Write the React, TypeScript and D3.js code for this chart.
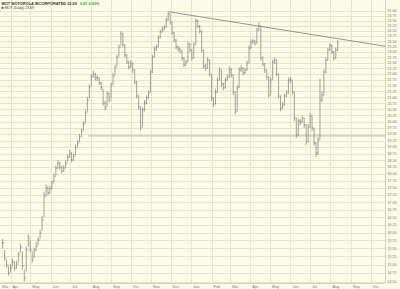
import React from "react";
import * as d3 from "d3";

// ---- data ----
const seriesStart = new Date(2005, 2, 20);
const stepDays = 3;

const closes = [
  15.67, 15.2, 14.99, 14.75, 14.9, 15.08, 14.9, 15.02, 15.3, 15.54,
  14.96, 14.6, 15.45, 15.82, 15.45, 15.14, 15.45, 15.57, 15.76, 15.98,
  16.41, 17.22, 17.5, 17.33, 17.47, 17.68, 17.92, 18.21, 18.4, 18.25,
  18.1, 18.21, 18.4, 18.62, 18.77, 18.51, 18.66, 19.0, 19.16, 19.39,
  19.62, 19.9, 20.35, 20.88, 21.44, 21.87, 22.0, 21.83, 21.83, 21.61,
  21.4, 20.76, 20.55, 21.14, 20.88, 21.53, 21.92, 22.31, 22.77, 23.23,
  23.85, 23.33, 22.86, 22.54, 22.31, 22.49, 22.18, 21.65, 21.05, 20.59,
  19.78, 20.47, 20.76, 20.97, 21.18, 22.09, 22.77, 23.14, 23.23, 23.66,
  23.95, 24.09, 24.18, 24.53, 24.83, 24.41, 23.9, 23.56, 23.23, 23.14,
  23.05, 22.72, 22.4, 22.54, 23.37, 23.09, 22.72, 23.33, 24.48, 24.23,
  23.99, 23.09, 22.36, 22.27, 22.63, 22.0, 20.97, 20.72, 21.22, 21.74,
  22.18, 21.57, 21.4, 21.74, 21.87, 22.22, 21.96, 21.22, 20.39, 21.4,
  22.18, 22.27, 22.05, 22.18, 22.49, 23.18, 23.47, 23.51, 23.42, 24.04,
  24.23, 22.72, 22.45, 22.18, 21.87, 21.09, 21.74, 22.54, 22.63, 22.0,
  21.05, 20.55, 20.67, 21.05, 21.18, 21.74, 21.74, 21.22, 20.14, 19.47,
  20.02, 19.98, 20.14, 19.86, 19.19, 19.78, 20.22, 19.74, 19.16, 18.77,
  19.27, 20.88, 21.09, 22.09, 22.63, 23.09, 23.28, 23.0, 22.72, 23.09,
  23.42,
];

const highs = [
  15.8, 15.45, 15.15, 14.95, 15.02, 15.18, 15.1, 15.12, 15.38, 15.65,
  15.4, 14.85, 15.55, 15.95, 15.75, 15.4, 15.52, 15.7, 15.85, 16.1,
  16.55, 17.35, 17.62, 17.55, 17.58, 17.75, 18.02, 18.3, 18.5, 18.45,
  18.3, 18.32, 18.5, 18.72, 18.9, 18.8, 18.75, 19.1, 19.28, 19.5,
  19.72, 20.02, 20.48, 21.0, 21.55, 22.0, 22.15, 22.05, 21.95, 21.85,
  21.65, 21.35, 20.85, 21.25, 21.2, 21.62, 22.05, 22.42, 22.88, 23.35,
  23.98, 23.9, 23.35, 22.9, 22.6, 22.62, 22.52, 22.2, 21.7, 21.1,
  20.62, 20.58, 20.88, 21.08, 21.3, 22.2, 22.88, 23.25, 23.35, 23.78,
  24.05, 24.2, 24.28, 24.65, 24.95, 24.85, 24.45, 23.95, 23.6, 23.3,
  23.22, 23.08, 22.75, 22.65, 23.48, 23.42, 23.12, 23.45, 24.6, 24.55,
  24.28, 24.0, 23.1, 22.45, 22.75, 22.65, 22.0, 21.0, 21.35, 21.85,
  22.3, 22.2, 21.62, 21.85, 21.98, 22.35, 22.25, 21.98, 21.25, 21.52,
  22.3, 22.4, 22.3, 22.28, 22.6, 23.3, 23.58, 23.62, 23.55, 24.15,
  24.4, 24.25, 22.8, 22.5, 22.2, 21.9, 21.85, 22.65, 22.75, 22.65,
  22.02, 21.08, 20.8, 21.15, 21.3, 21.85, 21.88, 21.75, 21.25, 20.15,
  20.12, 20.1, 20.25, 20.15, 19.88, 19.9, 20.35, 20.25, 19.75, 19.18,
  19.38, 21.8, 21.25, 22.2, 22.75, 23.2, 23.4, 23.35, 23.05, 23.2,
  23.55,
];

const lows = [
  15.5, 15.12, 14.9, 14.68, 14.78, 14.95, 14.82, 14.88, 15.05, 15.35,
  14.85, 14.5, 14.8, 15.55, 15.38, 15.05, 15.2, 15.42, 15.6, 15.8,
  16.05, 16.5, 17.2, 17.25, 17.3, 17.45, 17.7, 17.95, 18.2, 18.15,
  18.02, 18.08, 18.22, 18.45, 18.6, 18.42, 18.48, 18.7, 19.02, 19.2,
  19.4, 19.65, 19.95, 20.4, 20.95, 21.5, 21.85, 21.72, 21.7, 21.52,
  21.3, 20.65, 20.45, 20.6, 20.8, 20.95, 21.55, 21.95, 22.35, 22.8,
  23.3, 23.22, 22.75, 22.45, 22.2, 22.3, 22.05, 21.55, 20.95, 20.48,
  19.65, 19.8, 20.42, 20.7, 20.95, 21.2, 22.05, 22.75, 23.05, 23.22,
  23.65, 23.92, 24.02, 24.15, 24.5, 24.3, 23.8, 23.45, 23.12, 23.02,
  22.92, 22.6, 22.3, 22.38, 22.55, 22.98, 22.62, 22.7, 23.35, 24.12,
  23.88, 22.98, 22.25, 22.15, 22.25, 21.9, 20.85, 20.6, 20.7, 21.2,
  21.72, 21.45, 21.3, 21.38, 21.7, 21.85, 21.85, 21.1, 20.28, 20.4,
  21.4, 22.1, 21.95, 22.0, 22.15, 22.5, 23.15, 23.38, 23.3, 23.4,
  24.0, 22.6, 22.35, 22.05, 21.75, 20.98, 21.1, 21.75, 22.45, 21.9,
  20.95, 20.42, 20.5, 20.65, 21.0, 21.15, 21.6, 21.1, 20.02, 19.35,
  19.45, 19.85, 19.95, 19.75, 19.08, 19.18, 19.75, 19.62, 19.05, 18.62,
  18.7, 19.3, 20.8, 21.1, 22.05, 22.6, 23.05, 22.9, 22.6, 22.7,
  23.05,
];

const priceTicks = [
  14.5, 14.75, 15.0, 15.25, 15.5, 15.75, 16.0, 16.25, 16.5, 16.75,
  17.0, 17.25, 17.5, 17.75, 18.0, 18.25, 18.5, 18.75, 19.0, 19.25,
  19.5, 19.75, 20.0, 20.25, 20.5, 20.75, 21.0, 21.25, 21.5, 21.75,
  22.0, 22.25, 22.5, 22.75, 23.0, 23.25, 23.5, 23.75, 24.0, 24.25,
  24.5, 24.75, 25.0,
];

const monthTicks = [
  "2005-03-01", "2005-04-01", "2005-05-01", "2005-06-01", "2005-07-01",
  "2005-08-01", "2005-09-01", "2005-10-01", "2005-11-01", "2005-12-01",
  "2006-01-01", "2006-02-01", "2006-03-01", "2006-04-01", "2006-05-01",
  "2006-06-01", "2006-07-01", "2006-08-01", "2006-09-01", "2006-10-01",
];
const monthLabels = [
  "Mar", "Apr", "May", "Jun", "Jul", "Aug", "Sep", "Oct", "Nov", "Dec",
  "Jan", "Feb", "Mar", "Apr", "May", "Jun", "Jul", "Aug", "Sep", "Oct",
];

const trendDates = ["2005-11-29", "2006-10-23"];
const trendPrices = [24.93, 23.27];
const supportStart = "2005-07-28";
const supportPrice = 19.43;

const titleMain = "MOT MOTOROLA INCORPORATED  23.69";
const titleChange = "0.47  2.03%";
const subTitle = "■ MOT (Daily) 23.69";

// ---- layout ----
const W = 400;
const H = 289;
const plotLeft = 0;
const plotRight = 385;
const plotTop = 0;
const plotBottom = 283;

const parse = (s: string) => {
  const [y, m, d] = s.split("-").map(Number);
  return new Date(y, m - 1, d);
};

export default function App() {
  const x = d3
    .scaleTime()
    .domain([new Date(2005, 2, 16), new Date(2006, 9, 23)])
    .range([plotLeft, plotRight]);
  const y = d3.scaleLog().domain([14.5, 25]).range([281.5, 10.5]);

  const dates = closes.map((_, i) => d3.timeDay.offset(seriesStart, stepDays * i));

  const bg = "#fbfbe7";
  const grid = "#e4e4c6";
  const barColor = "#7c7c7c";
  const labelColor = "#7a7a7a";

  return (
    <div>
      <style>{`body{margin:0}`}</style>
      <svg width={W} height={H} style={{ display: "block" }} fontFamily="Liberation Sans, Arial, sans-serif">
        <rect x={0} y={0} width={W} height={H} fill={bg} />
        {/* horizontal grid */}
        {priceTicks.map((p) => (
          <line key={"h" + p} x1={plotLeft} x2={plotRight} y1={Math.round(y(p)) + 0.5} y2={Math.round(y(p)) + 0.5} stroke={grid} strokeWidth={1} />
        ))}
        {/* vertical grid */}
        {monthTicks.map((m) => {
          const xx = x(parse(m));
          if (xx < plotLeft) return null;
          return <line key={"v" + m} x1={Math.round(xx) + 0.5} x2={Math.round(xx) + 0.5} y1={plotTop} y2={plotBottom} stroke={grid} strokeWidth={1} />;
        })}
        {/* plot border right + bottom */}
        <line x1={plotRight + 0.5} x2={plotRight + 0.5} y1={plotTop} y2={plotBottom} stroke="#d4d4b8" />
        <line x1={plotLeft} x2={plotRight} y1={plotBottom + 0.5} y2={plotBottom + 0.5} stroke="#d4d4b8" />

        {/* support line */}
        <line
          x1={x(parse(supportStart))}
          x2={plotRight}
          y1={y(supportPrice)}
          y2={y(supportPrice)}
          stroke="#a8a8a0"
          strokeWidth={0.8}
        />
        {/* trend line */}
        <line
          x1={x(parse(trendDates[0]))}
          y1={y(trendPrices[0])}
          x2={x(parse(trendDates[1]))}
          y2={y(trendPrices[1])}
          stroke="#8a8a8a"
          strokeWidth={0.9}
        />

        {/* price bars */}
        <g stroke={barColor} strokeWidth={0.7}>
          {closes.map((c, i) => {
            const xx = x(dates[i]);
            const prev = i > 0 ? closes[i - 1] : c;
            return (
              <g key={"b" + i}>
                <line x1={xx} x2={xx} y1={y(highs[i])} y2={y(lows[i])} />
                <line x1={xx - 0.9} x2={xx} y1={y(prev)} y2={y(prev)} />
                <line x1={xx} x2={xx + 0.9} y1={y(c)} y2={y(c)} />
              </g>
            );
          })}
        </g>

        {/* right axis labels */}
        {priceTicks.map((p) => (
          <text key={"t" + p} x={392} y={y(p)} dy="0.35em" fontSize={3.8} fill={labelColor} textAnchor="middle">
            {p.toFixed(2)}
          </text>
        ))}

        {/* month labels */}
        {monthTicks.map((m, i) => {
          const xx = Math.max(x(parse(m)), plotLeft);
          return (
            <text key={"m" + m} x={xx + 2} y={287.5} fontSize={3.8} fill={labelColor}>
              {monthLabels[i]}
            </text>
          );
        })}

        {/* titles */}
        <text x={1.5} y={4.5} fontSize={3.9} fontWeight="bold" fill="#333">
          {titleMain}
          <tspan dx={3} fill="#2ea82e">{titleChange}</tspan>
        </text>
        <text x={1.5} y={9} fontSize={3.6} fill="#444">
          {subTitle}
        </text>
      </svg>
    </div>
  );
}
